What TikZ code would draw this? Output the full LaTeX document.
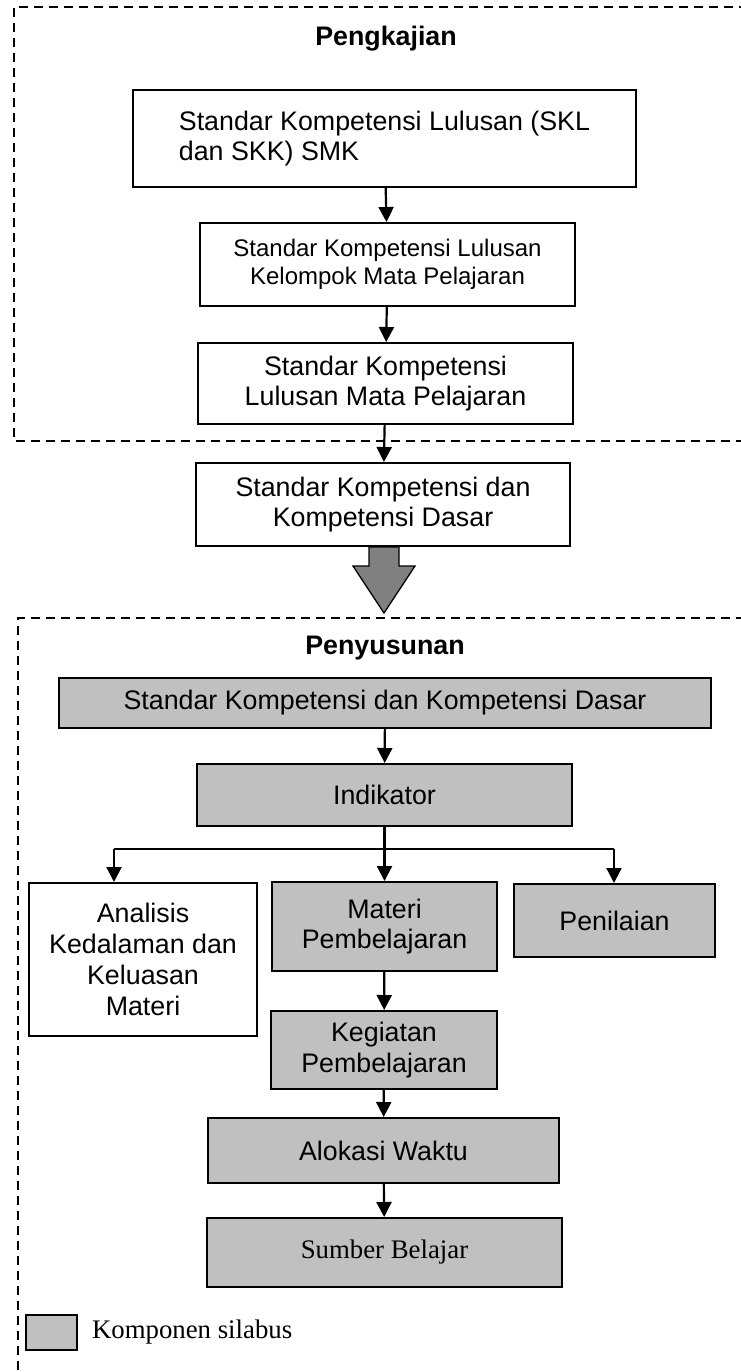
\documentclass[tikz,border=0pt]{standalone}
\usepackage{fontspec}
\setmainfont{Liberation Sans}
\newfontfamily\seriffam{Liberation Serif}
\usetikzlibrary{arrows.meta}
\usetikzlibrary{positioning}
\usetikzlibrary{calc}
\definecolor{boxgray}{HTML}{c0c0c0}
\definecolor{arrowgray}{HTML}{808080}

\begin{document}
\begin{tikzpicture}[x=1pt, y=-1pt,
every node/.style = {shape=rectangle, line width=2pt, color=black,
  draw, align=center, inner sep=0pt, fill=white,
  font=\fontsize{26.8}{30.8}\selectfont},
komponen/.style = {fill=boxgray},
judul/.style = {
  draw=none, fill=none, font=\bfseries\fontsize{26.8}{30.8}\selectfont
},
frame/.style = {line width=1.3pt, dash pattern=on 9pt off 6pt},
conn/.style = {line width=2.2pt, -{Triangle[length=15pt,width=15pt]}},
bigarrow/.style = {line width=1.3pt, fill=arrowgray, line join=miter}
]
\useasboundingbox (0,0) rectangle (740,1372);

% dashed frames
\draw[frame] (745,441) -- (14,441) -- (14,7) -- (745,7);
\draw[frame] (745,618) -- (18,618) -- (18,1380);

\node (pengkajian) [judul, anchor=base] at (386,46) {Pengkajian};
\node (skl) [minimum width=503pt, minimum height=97pt, align=left]
  at (384.5,138.5) {Standar Kompetensi Lulusan (SKL\\dan SKK) SMK};
\node (sklkmp) [minimum width=375pt, minimum height=83pt,
  font=\fontsize{24}{28}\selectfont]
  at (387.5,264.5) {Standar Kompetensi Lulusan\\Kelompok Mata Pelajaran};
\node (sklmp) [minimum width=375pt, minimum height=81pt]
  at (385.5,383.5) {Standar Kompetensi\\Lulusan Mata Pelajaran};
\node (skkd) [minimum width=374pt, minimum height=83pt]
  at (383,504.5) {Standar Kompetensi dan\\Kompetensi Dasar};

\draw[conn] (skl) -- (sklkmp);
\draw[conn] (sklkmp) -- (sklmp);
\draw[conn] (sklmp) -- (skkd);

\draw[bigarrow] ($(skkd.south)+(-14,0)$) -- ($(skkd.south)+(16,0)$)
  -- ($(skkd.south)+(16,19)$) -- ($(skkd.south)+(32,19)$)
  -- ($(skkd.south)+(1,66)$) -- ($(skkd.south)+(-30,19)$)
  -- ($(skkd.south)+(-14,19)$) -- cycle;

\node (penyusunan) [judul, anchor=base] at (385,654) {Penyusunan};
\node (kd) [komponen, minimum width=652pt, minimum height=50pt]
  at (385,703) {Standar Kompetensi dan Kompetensi Dasar};
\node (indikator) [komponen, minimum width=375pt, minimum height=62pt]
  at (384.5,795) {Indikator};
\node (analisis) [minimum width=228pt, minimum height=153pt]
  at (143,959.5) {Analisis\\Kedalaman dan\\Keluasan\\Materi};
\node (materi) [komponen, minimum width=225pt, minimum height=89pt]
  at (384.5,926.5) {Materi\\Pembelajaran};
\node (penilaian) [komponen, minimum width=201pt, minimum height=73pt]
  at (614.5,920.5) {Penilaian};
\node (kegiatan) [komponen, minimum width=226pt, minimum height=78pt]
  at (384,1050) {Kegiatan\\Pembelajaran};
\node (alokasi) [komponen, minimum width=351pt, minimum height=65pt]
  at (383.5,1150.5) {Alokasi Waktu};
\node (sumber) [komponen, minimum width=355pt, minimum height=69pt,
  font=\seriffam\fontsize{26.8}{30.8}\selectfont]
  at (384.5,1252.5) {Sumber Belajar};

\coordinate (kiri) at (114,849);
\coordinate (kanan) at (614,849);
\draw[conn] (kd) -- (indikator);
\draw[conn] (indikator) -- (materi);
\draw[line width=2.2pt] (kiri) -- (kanan);
\draw[conn] (kiri) -- (kiri |- analisis.north);
\draw[conn] (kanan) -- (kanan |- penilaian.north);
\draw[conn] (materi) -- (kegiatan);
\draw[conn] (kegiatan) -- (alokasi);
\draw[conn] (alokasi) -- (sumber);

\node (legenda) [komponen, minimum width=51pt, minimum height=35pt]
  at (51.5,1332.5) {};
\node (legendateks) [right=13pt of legenda, draw=none, fill=none,
  font=\seriffam\fontsize{26.8}{30.8}\selectfont] {Komponen silabus};

\end{tikzpicture}
\end{document}
